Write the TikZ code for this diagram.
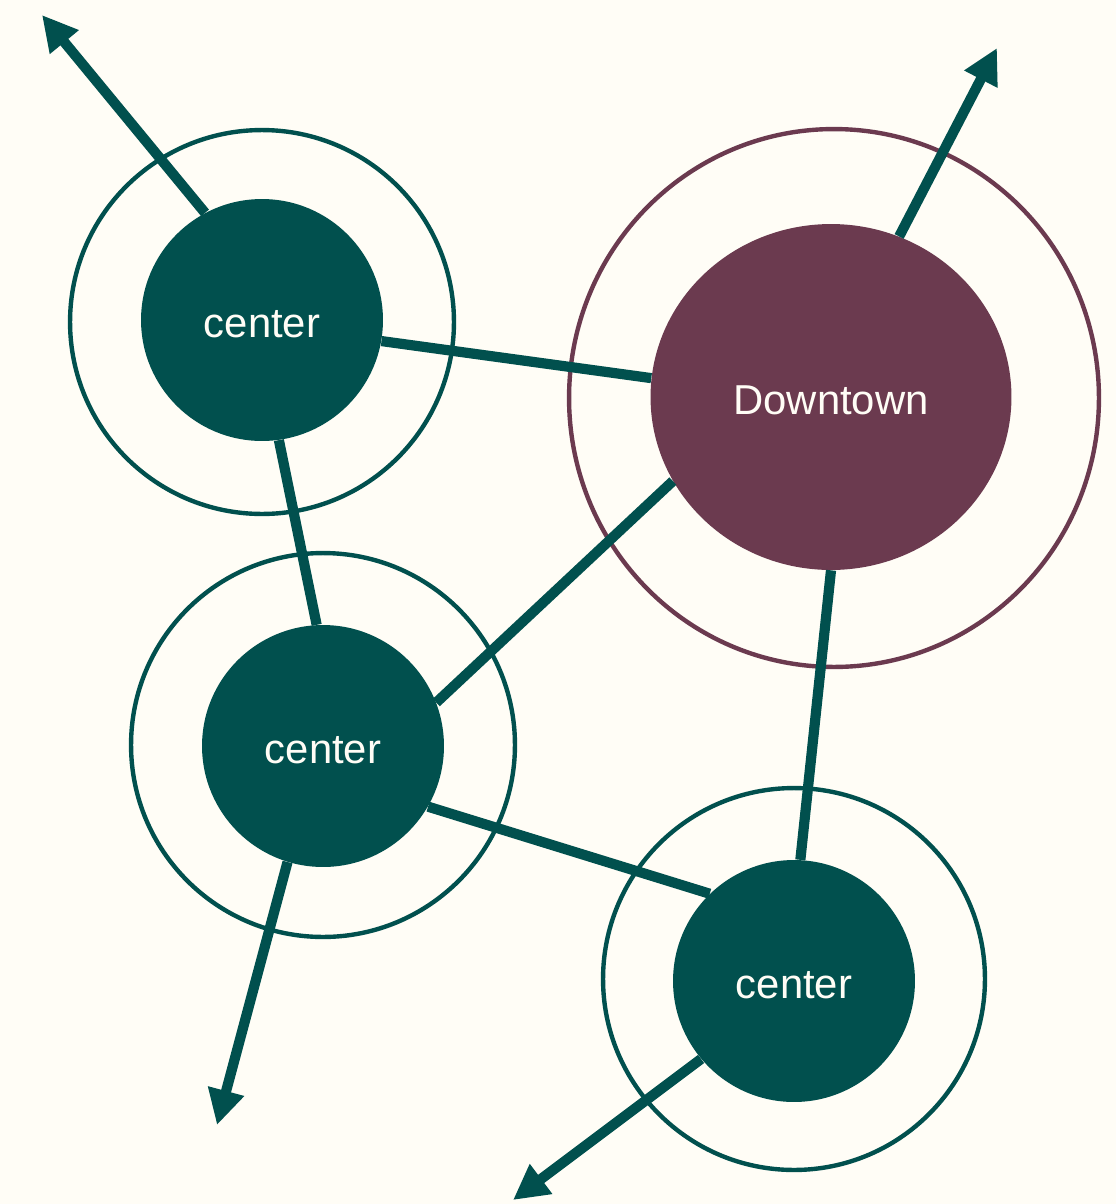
\documentclass[tikz,border=0pt]{standalone}
\usepackage{fontspec}
\setmainfont{Liberation Sans}
\usetikzlibrary{arrows.meta,shapes.geometric}
\definecolor{hubteal}{HTML}{01504E}
\definecolor{plum}{HTML}{6B3A4F}
\definecolor{bg}{HTML}{FFFDF6}
\begin{document}
\begin{tikzpicture}[x=0.02cm,y=-0.02cm,
  label text/.style={text=bg,font=\fontsize{23.8}{28}\selectfont,text height=19.4pt,text depth=0pt},
  hub/.style={circle,fill=hubteal,draw=none,minimum size=4.84cm,inner sep=0pt,label text},
  down/.style={ellipse,fill=plum,draw=none,minimum width=7.22cm,minimum height=6.92cm,inner sep=0pt,label text},
  ring/.style={line width=2.5pt},
  link/.style={draw=hubteal,line width=5.8pt},
  outarrow/.style={link,-{Triangle[length=20pt,width=20pt]}}]
\fill[bg] (0,0) rectangle (1116,1204);
\useasboundingbox (0,0) rectangle (1116,1204);
% rings
\draw[ring,hubteal] (262,322) circle (3.84cm);
\draw[ring,hubteal] (323,745) circle (3.84cm);
\draw[ring,hubteal] (794,979) circle (3.82cm);
\draw[ring,plum] (834,398) ellipse (5.3cm and 5.38cm);
% nodes
\node[hub] (c1) at (262,320) {center};
\node[hub] (c2) at (323,746) {center};
\node[hub] (c3) at (794,981) {center};
\node[down] (dt) at (831,397) {Downtown};
% free ends
\coordinate (t1) at (42,15);
\coordinate (t2) at (997,48);
\coordinate (t3) at (217,1125);
\coordinate (t4) at (513,1200);
% links
\draw[link] (c1.-10.6) -- (dt.174);
\draw[link] (c1.278.5) -- (c2.93.8);
\draw[link] (dt.208) -- (c2.21.4);
\draw[link] (dt.270) -- (c3.87.2);
\draw[link] (c2.330) -- (c3.134.7);
% outward arrows
\draw[outarrow] (c1.118) -- (t1);
\draw[outarrow] (dt.67) -- (t2);
\draw[outarrow] (c2.253.4) -- (t3);
\draw[outarrow] (c3.220.2) -- (t4);
\end{tikzpicture}
\end{document}
